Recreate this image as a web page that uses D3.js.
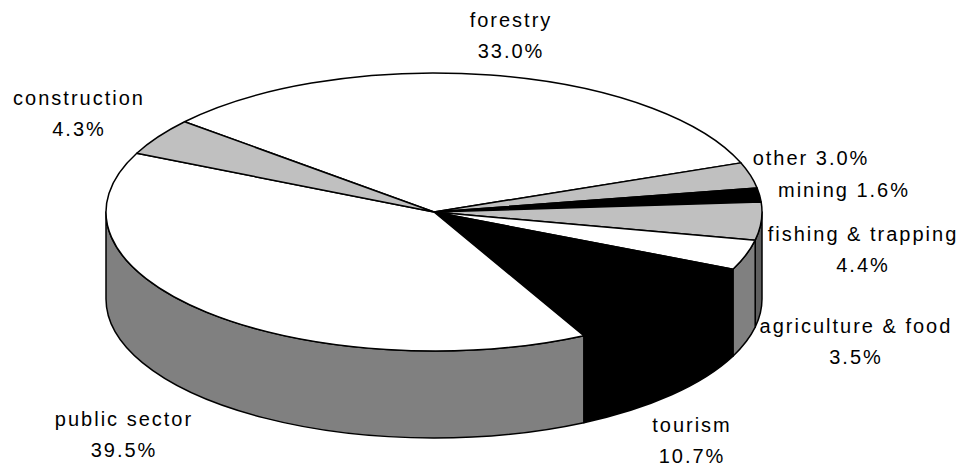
<!DOCTYPE html>
<html>
<head>
<meta charset="utf-8">
<script src="https://cdn.jsdelivr.net/npm/d3@7/dist/d3.min.js"></script>
<style>
  html, body { margin: 0; padding: 0; background: #fff; }
  svg { display: block; }
  text { font-family: "Liberation Sans", Arial, sans-serif; font-size: 20px; letter-spacing: 2px; fill: #000; }
</style>
</head>
<body>
<svg id="chart" width="962" height="468"></svg>
<script>
// Employment share by sector (percent of total)
const categories = ["forestry", "other", "mining", "fishing & trapping",
                    "agriculture & food", "tourism", "public sector", "construction"];
const shares = [33.0, 3.0, 1.6, 4.4, 3.5, 10.7, 39.5, 4.3];

// Fill of each slice's top face; the outer wall uses a darker shade
const topFills  = ["#ffffff", "#c0c0c0", "#000000", "#c0c0c0", "#ffffff", "#000000", "#ffffff", "#c0c0c0"];
const wallFills = ["#808080", "#606060", "#000000", "#606060", "#808080", "#000000", "#808080", "#606060"];

// Label layout: anchor point and whether name and value share one line
const labelLayout = {
  "forestry":           { x: 511, y: 27,  inline: false },
  "other":              { x: 811, y: 165, inline: true  },
  "mining":             { x: 844, y: 197, inline: true  },
  "fishing & trapping": { x: 863, y: 241, inline: false },
  "agriculture & food": { x: 856, y: 333, inline: false },
  "tourism":            { x: 692, y: 432, inline: false },
  "public sector":      { x: 124, y: 426, inline: false },
  "construction":       { x: 79,  y: 105, inline: false }
};
const lineGap = 31;

// Tilted pie geometry: elliptical top face and extruded depth
const cx = 434, cy = 212, rx = 328, ry = 139, depth = 87;
const startDeg = 310.5;

const svg = d3.select("#chart");

const data = categories.map((c, i) => ({ name: c, value: shares[i], i }));
const pie = d3.pie()
  .sort(null)
  .value(d => d.value)
  .startAngle(startDeg * Math.PI / 180)
  .endAngle((startDeg + 360) * Math.PI / 180);
const arcs = pie(data);

// pie angle (0 = 12 o'clock, clockwise) -> parametric ellipse angle
const toTheta = a => a - Math.PI / 2;
const rimPt = (t, dy = 0) => [cx + rx * Math.cos(t), cy + ry * Math.sin(t) + dy];
const fmt = p => p[0].toFixed(2) + "," + p[1].toFixed(2);

// Normalise an angle into [0, 2π)
const norm = t => { const T = 2 * Math.PI; return ((t % T) + T) % T; };

// Visible (front) portion of a slice's outer wall: parametric angles in [0, π]
function frontRange(t0, t1) {
  const s = norm(t0);
  const e = s + (t1 - t0);
  const pieces = [];
  [[0, Math.PI], [2 * Math.PI, 3 * Math.PI]].forEach(([a, b]) => {
    const lo = Math.max(s, a), hi = Math.min(e, b);
    if (hi > lo + 1e-6) pieces.push([lo, hi]);
  });
  return pieces;
}

function wallPath(a0, a1) {
  const p0 = rimPt(a0), p1 = rimPt(a1);
  const q1 = rimPt(a1, depth), q0 = rimPt(a0, depth);
  const large = (a1 - a0) > Math.PI ? 1 : 0;
  return "M" + fmt(p0) +
         " A" + rx + "," + ry + " 0 " + large + " 1 " + fmt(p1) +
         " L" + fmt(q1) +
         " A" + rx + "," + ry + " 0 " + large + " 0 " + fmt(q0) + " Z";
}

function topPath(t0, t1) {
  const p0 = rimPt(t0), p1 = rimPt(t1);
  const large = (t1 - t0) > Math.PI ? 1 : 0;
  return "M" + cx + "," + cy + " L" + fmt(p0) +
         " A" + rx + "," + ry + " 0 " + large + " 1 " + fmt(p1) + " Z";
}

const gWalls = svg.append("g").attr("class", "walls");
const gTops = svg.append("g").attr("class", "tops");
const gLabels = svg.append("g").attr("class", "labels");

// Outer walls (front half only)
const wallSegs = [];
arcs.forEach(d => {
  const t0 = toTheta(d.startAngle), t1 = toTheta(d.endAngle);
  frontRange(t0, t1).forEach(([a, b]) => wallSegs.push({ d, a, b }));
});
gWalls.selectAll("path")
  .data(wallSegs)
  .join("path")
  .attr("d", s => wallPath(s.a, s.b))
  .attr("fill", s => wallFills[s.d.data.i])
  .attr("stroke", "#000")
  .attr("stroke-width", 1.5)
  .attr("stroke-linejoin", "round");

// Top faces
gTops.selectAll("path")
  .data(arcs)
  .join("path")
  .attr("d", d => topPath(toTheta(d.startAngle), toTheta(d.endAngle)))
  .attr("fill", d => topFills[d.data.i])
  .attr("stroke", "#000")
  .attr("stroke-width", 1.5)
  .attr("stroke-linejoin", "round");

// Category labels with percentage values
arcs.forEach(d => {
  const L = labelLayout[d.data.name];
  const pct = d.data.value.toFixed(1) + "%";
  const t = gLabels.append("text").attr("text-anchor", "middle");
  if (L.inline) {
    t.attr("x", L.x).attr("y", L.y).text(d.data.name + " " + pct);
  } else {
    t.append("tspan").attr("x", L.x).attr("y", L.y).text(d.data.name);
    t.append("tspan").attr("x", L.x).attr("y", L.y + lineGap).text(pct);
  }
});
</script>
</body>
</html>
